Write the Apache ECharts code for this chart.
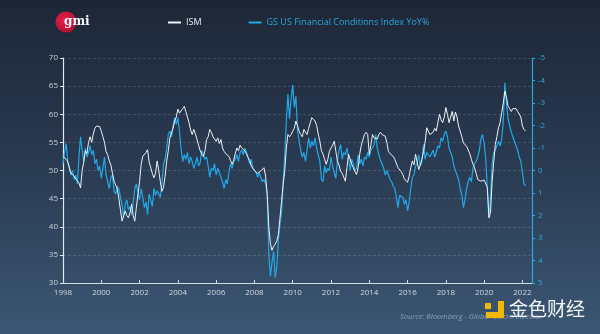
<!DOCTYPE html>
<html><head><meta charset="utf-8">
<script src="https://cdn.jsdelivr.net/npm/echarts@6/dist/echarts.min.js"></script>
<style>html,body{margin:0;padding:0;background:#2a3a50}#c{width:600px;height:334px}</style>
</head><body><div id="c"></div><script>
// Monthly categories Jan 1998 .. Jul 2022 (axis runs a little beyond the data)
const firstYear = 1998, lastYear = 2022, lastMonth = 7;
const seriesNames = ['ISM', 'GS US Financial Conditions Index YoY%'];

// ISM (left axis), monthly Jan 1998 .. Mar 2022
const ism = [
52.5,52.3,52.0,51.5,50.5,49.5,49.3,49.0,48.5,48.2,47.8,46.9,
50.0,51.5,53.5,53.0,55.0,56.0,55.0,56.5,57.5,57.9,58.2,57.8,
57.0,56.0,55.0,53.4,52.8,51.7,51.0,49.5,48.1,47.8,46.8,45.0,
43.0,41.0,42.0,42.8,42.0,41.6,42.5,44.0,42.0,41.0,43.5,45.8,
48.0,51.1,52.5,52.8,53.2,53.7,51.5,50.5,49.5,48.7,49.5,51.7,
50.0,48.1,46.3,47.0,49.0,51.7,53.5,55.8,55.5,57.5,58.8,59.5,
60.9,60.2,60.5,61.0,61.4,60.5,59.5,58.5,57.2,56.4,57.3,56.5,
55.5,54.5,53.5,52.9,52.5,53.5,55.5,56.0,57.3,56.8,56.0,55.8,
55.2,55.8,54.8,55.5,54.0,53.4,53.0,52.9,52.5,51.8,51.1,51.8,
53.0,54.0,53.5,54.5,54.0,54.0,53.5,53.0,52.3,51.8,50.8,50.5,
50.0,49.7,49.5,49.8,49.9,50.2,50.5,49.0,45.8,40.0,37.0,35.8,
36.5,36.9,37.5,38.6,41.5,44.5,47.5,49.9,54.0,56.4,56.0,56.4,
57.0,57.5,58.8,58.0,57.0,56.4,56.0,57.3,56.8,56.4,57.5,58.5,
59.4,59.2,58.8,58.0,56.5,55.2,53.5,52.9,52.0,51.1,52.0,53.4,
54.0,54.5,55.2,53.5,51.7,51.0,49.9,49.5,48.8,48.1,50.5,52.9,
52.0,51.1,50.5,49.8,49.3,50.5,52.9,54.5,55.5,56.4,56.8,56.4,
52.9,54.5,56.4,55.8,56.0,55.6,56.4,56.8,56.4,56.6,56.1,55.0,
53.4,53.0,52.9,52.5,52.0,51.8,50.5,50.8,49.8,49.3,48.5,48.3,
47.9,49.0,50.5,51.7,51.0,52.9,51.5,50.2,51.0,52.0,53.4,55.0,
57.6,57.0,56.4,56.4,56.8,57.5,57.0,58.5,60.0,59.0,58.5,59.5,
61.2,60.0,58.5,59.5,60.5,58.8,60.4,59.5,57.9,57.0,56.0,54.9,
54.9,54.3,54.0,53.0,52.0,51.1,50.5,49.5,48.4,48.2,48.1,48.1,
48.3,48.1,47.0,41.6,42.5,48.1,51.5,54.6,56.0,57.6,58.5,60.3,
62.0,64.1,63.0,61.4,61.0,60.5,61.0,60.8,61.0,60.5,60.5,59.5,
57.9,57.3,57.0
];

// GS US Financial Conditions Index YoY% (right axis, inverted), monthly Jan 1998 .. Mar 2022
const gsfci = [
-0.3,-0.8,-1.2,-0.4,-0.1,0.2,0.0,0.4,0.2,0.6,-0.6,-1.5,
-0.9,-0.4,-1.0,-0.6,-0.8,-1.1,-0.7,-0.9,-0.3,-0.5,0.0,-0.2,
0.35,-0.1,-0.6,0.2,0.5,0.8,0.3,0.2,0.9,1.05,0.7,0.8,
1.2,1.5,2.1,1.5,1.3,1.75,1.6,2.0,1.4,0.8,0.6,1.0,
1.3,0.8,1.2,1.65,1.4,1.95,1.05,1.3,1.6,0.8,1.1,0.9,
1.05,1.2,0.6,-0.3,-0.5,-1.0,-1.6,-1.75,-1.5,-2.0,-2.35,-2.05,
-2.35,-1.75,-1.0,-0.4,-0.7,-0.5,-0.8,-0.3,-0.6,-0.4,-0.1,-0.3,
-0.6,-0.2,-0.35,-0.9,-0.85,-0.5,-0.6,-0.2,0.3,-0.1,0.0,-0.3,
0.2,-0.1,0.1,0.3,0.5,0.8,0.4,0.6,0.1,-0.3,-0.1,-0.4,
-0.5,-0.7,-0.4,-0.8,-0.9,-0.7,-1.0,-0.8,-0.6,-0.3,-0.5,-0.1,
0.0,0.1,0.3,0.1,0.3,0.5,0.4,0.6,1.0,3.7,4.7,4.1,
3.6,4.75,4.3,3.1,2.4,1.9,0.5,-0.7,-2.2,-3.4,-2.3,-3.2,
-3.8,-2.8,-3.3,-1.8,-1.3,-0.9,-0.6,-0.8,-0.4,-0.9,-1.45,-1.0,
-1.3,-1.1,-1.45,-1.0,-0.7,-0.4,0.4,0.5,-0.2,0.1,-0.1,0.0,
-0.6,-0.2,0.1,0.35,-0.4,-0.9,-1.15,-0.5,-0.8,-0.7,-1.0,-0.6,
0.0,-0.5,-0.3,0.0,-0.1,-0.7,-0.3,-0.5,-0.2,-0.6,-0.5,-0.8,
-0.6,-0.9,-1.0,-1.15,-1.6,-1.0,-0.7,-0.45,-0.3,-0.1,0.2,0.0,
0.2,0.4,0.5,0.7,0.8,1.2,1.65,1.1,1.05,1.2,1.5,1.3,
1.8,1.4,0.8,0.3,0.2,-0.2,-0.3,-0.7,-0.2,-0.4,-1.15,-0.5,
-0.8,-0.7,-0.6,-0.6,-0.9,-0.6,-0.8,-1.1,-1.0,-1.45,-1.3,-1.6,
-1.75,-1.5,-1.0,-0.8,-0.6,-0.2,0.0,0.2,0.4,0.8,1.1,1.65,
1.3,0.8,0.5,0.3,0.5,-0.1,-0.3,-0.4,-0.6,-0.9,-1.4,-1.6,
-1.2,-0.5,0.8,2.1,1.2,-0.3,-0.8,-0.9,-1.1,-1.3,-1.1,-1.4,
-2.2,-3.9,-3.0,-2.3,-2.0,-1.7,-1.5,-1.3,-1.1,-0.9,-0.6,-0.4,
0.1,0.6,0.7
];

const categories = [];
for (let y = firstYear; y <= lastYear; y++) {
  for (let m = 1; m <= 12; m++) {
    if (y === lastYear && m > lastMonth) break;
    categories.push(y + '-' + (m < 10 ? '0' + m : '' + m));
  }
}
const isTickCat = (i, v) => v.slice(5) === '01' && (+v.slice(0, 4)) % 2 === 0;

const chart = echarts.init(document.getElementById('c'), null, {renderer: 'canvas'});
const FONT = 'Open Sans';
chart.setOption({
  animation: false,
  backgroundColor: {type: 'linear', x: 0, y: 0, x2: 0, y2: 1,
    colorStops: [{offset: 0, color: '#1d2636'}, {offset: 0.5, color: '#2a3b52'}, {offset: 1, color: '#3b5773'}]},
  grid: {left: 63, right: 68, top: 58, bottom: 51},
  legend: {
    left: 163, top: 13, itemGap: 47, itemWidth: 13, itemHeight: 2, icon: 'rect',
    textStyle: {fontFamily: FONT, fontSize: 9, padding: [0, 0, 0, 0]},
    data: [
      {name: seriesNames[0], textStyle: {color: '#e8edf3'}},
      {name: seriesNames[1], textStyle: {color: '#2ba6dc'}}
    ]
  },
  xAxis: {
    type: 'category', data: categories, boundaryGap: false,
    axisLine: {onZero: false, lineStyle: {color: '#cfdbe6', width: 1.2}},
    axisTick: {show: true, inside: true, length: 3, interval: isTickCat, lineStyle: {color: '#cfdbe6'}},
    axisLabel: {interval: isTickCat, formatter: v => v.slice(0, 4), color: '#d0d8e2',
      fontFamily: FONT, fontSize: 8, margin: 6, showMinLabel: true},
    splitLine: {show: false}
  },
  yAxis: [
    {
      type: 'value', min: 30, max: 70, interval: 5, position: 'left',
      axisLine: {show: true, lineStyle: {color: '#dfe7ef', width: 1.2}},
      axisTick: {show: true, length: 3, lineStyle: {color: '#dfe7ef'}},
      axisLabel: {color: '#c9d2dc', fontFamily: FONT, fontSize: 8, margin: 5},
      splitLine: {show: true, lineStyle: {color: 'rgba(200,215,230,0.16)', type: [3, 2], width: 1}}
    },
    {
      type: 'value', min: -5, max: 5, interval: 1, inverse: true, position: 'right',
      axisLine: {show: true, lineStyle: {color: '#2ea7dc', width: 1.2}},
      axisTick: {show: true, length: 3, lineStyle: {color: '#2ea7dc'}},
      axisLabel: {color: '#2ea7dc', fontFamily: FONT, fontSize: 8, margin: 6},
      splitLine: {show: false}
    }
  ],
  series: [
    {name: seriesNames[0], type: 'line', yAxisIndex: 0, data: ism, showSymbol: false, symbol: 'none',
      lineStyle: {color: '#eef2f7', width: 1}, itemStyle: {color: '#eef2f7'}, z: 4},
    {name: seriesNames[1], type: 'line', yAxisIndex: 1, data: gsfci, showSymbol: false, symbol: 'none',
      lineStyle: {color: '#22a8e6', width: 1.2}, itemStyle: {color: '#22a8e6'}, z: 3}
  ],
  graphic: [
    {type: 'circle', shape: {cx: 66, cy: 22, r: 10.5}, z: 10,
      style: {fill: {type: 'radial', x: 0.4, y: 0.4, r: 0.7,
        colorStops: [{offset: 0, color: '#e5204a'}, {offset: 1, color: '#b00c30'}]}}},
    {type: 'text', left: 64, top: 16, z: 11,
      style: {text: 'gmi', fill: '#ffffff', font: 'bold 12px "DejaVu Serif", serif'}},
    {type: 'text', left: 400, top: 313, z: 10,
      style: {text: 'Source: Bloomberg - Global Macro Investor', fill: '#8aa0b6',
        font: 'italic 7.5px "Open Sans", sans-serif'}},
    {type: 'rect', shape: {x: 485, y: 303, width: 6, height: 6}, z: 12, style: {fill: '#f2b705'}},
    {type: 'rect', shape: {x: 498, y: 301, width: 6, height: 17}, z: 12, style: {fill: '#f2b705'}},
    {type: 'rect', shape: {x: 486, y: 312, width: 18, height: 6}, z: 12, style: {fill: '#f2b705'}},
    {type: 'text', left: 509, top: 299, z: 12,
      style: {text: '金色财经', fill: '#f4f6f8', font: '19px "Noto Sans CJK SC", sans-serif'}}
  ]
});
</script></body></html>
